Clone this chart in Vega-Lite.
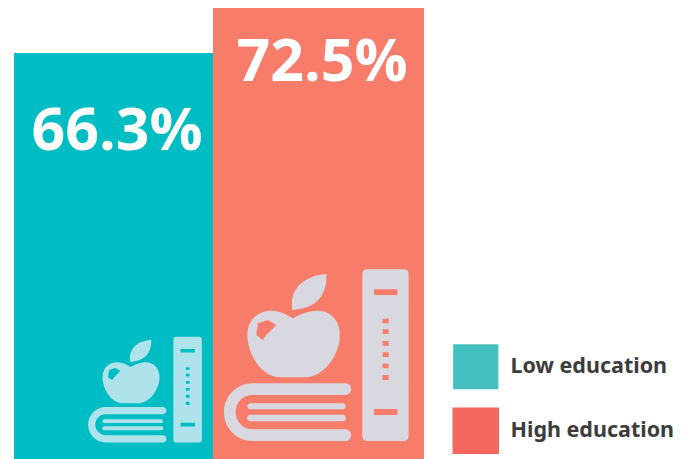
{"$schema":"https://vega.github.io/schema/vega-lite/v6.json","width":683,"height":459,"padding":0,"autosize":{"type":"none"},"background":"white","view":{"stroke":null},
"data":{"values":[{"group":"Low education","value":66.3,"label":"66.3%"},{"group":"High education","value":72.5,"label":"72.5%"}]},
"encoding":{"x":{"field":"group","type":"nominal","sort":["Low education","High education"],"axis":null,"scale":{"type":"point","padding":0,"domain":["Low education","High education"],"range":[113.5,318.5]}},"y":{"field":"value","type":"quantitative","axis":null,"scale":{"domain":[10.4,73.6],"zero":false,"nice":false}}},
"layer":[
{"mark":{"type":"square","size":100,"yOffset":50},"encoding":{"color":{"field":"group","type":"nominal","sort":["Low education","High education"],"scale":{"domain":["Low education","High education"],"range":["#43BFBF","#F4665E"]},"legend":{"title":null,"orient":"none","legendX":465,"legendY":356,"padding":0,"symbolType":"M-3.2,-3.2H3.2V3.2H-3.2Z","symbolStrokeWidth":0,"symbolOpacity":1,"rowPadding":17,"labelFont":"Noto Sans","labelFontWeight":"bold","labelFontSize":21.5,"labelColor":"#3C3C3C","labelOffset":24,"labelLimit":220}}}},
{"mark":{"type":"bar","clip":true},"encoding":{"size":{"field":"group","type":"nominal","legend":null,"scale":{"domain":["Low education","High education"],"range":[199,211]}},"fill":{"field":"group","type":"nominal","legend":null,"scale":{"domain":["Low education","High education"],"range":["#00BCC3","#F77C6A"]}}}},
{"transform":[{"filter":"datum.group==='Low education'"}],"mark":{"type":"text","font":"Open Sans","fontWeight":"bold","fontSize":59,"color":"white","baseline":"middle","align":"center","dx":3.5,"yOffset":79},"encoding":{"text":{"field":"label","type":"nominal"}}},
{"transform":[{"filter":"datum.group==='High education'"}],"mark":{"type":"text","font":"Open Sans","fontWeight":"bold","fontSize":59,"color":"white","baseline":"middle","align":"center","dx":3.5,"yOffset":55},"encoding":{"text":{"field":"label","type":"nominal"}}},
{"transform":[{"filter":"datum.group==='Low education'"}],"mark":{"type":"point","filled":true,"opacity":1,"strokeWidth":0,"color":"#AEE3EC","size":0.1686,"xOffset":31.5,"yOffset":336.5,"shape":"M153,-257H262Q277,-257 277,-242V243Q277,258 262,258H153Q138,258 138,243V-242Q138,-257 153,-257ZM173,-197V-180H243V-197ZM173,162V180H243V162ZM199,-109V-95H217V-109ZM199,-77V-63H217V-77ZM199,-42V-28H217V-42ZM199,-8V6H217V-8ZM199,26V40H217V26ZM199,60V75H217V60ZM-70,-110C-45,-125 -20,-133 5,-133C45,-133 71,-100 71,-60C71,-10 30,67 -35,67L-105,67C-170,67 -207,-10 -207,-60C-207,-105 -175,-133 -135,-133C-110,-133 -90,-122 -70,-110ZM-175,-95L-180,-60L-160,-45L-150,-60L-135,-75L-120,-90L-145,-105ZM30,-243C33,-190 10,-140 -72,-135C-80,-190 -50,-235 30,-243ZM87,85H-190C-240,85 -277,125 -277,171C-277,220 -240,258 -190,258H87A17.5,17.5 0 0 0 87,223H-190C-220,223 -242,200 -242,171C-242,142 -220,120 -190,120H87A17.5,17.5 0 0 0 87,85ZM-198,145H79A9,9 0 0 1 79,163H-198A9,9 0 0 1 -198,145ZM-198,179H79A10,10 0 0 1 79,199H-198A10,10 0 0 1 -198,179Z"}},
{"transform":[{"filter":"datum.group==='High education'"}],"mark":{"type":"point","filled":true,"opacity":1,"strokeWidth":0,"color":"#D9D7DF","size":0.4444,"xOffset":-2.2,"yOffset":347,"shape":"M153,-257H262Q277,-257 277,-242V243Q277,258 262,258H153Q138,258 138,243V-242Q138,-257 153,-257ZM173,-197V-180H243V-197ZM173,162V180H243V162ZM199,-109V-95H217V-109ZM199,-77V-63H217V-77ZM199,-42V-28H217V-42ZM199,-8V6H217V-8ZM199,26V40H217V26ZM199,60V75H217V60ZM-70,-110C-45,-125 -20,-133 5,-133C45,-133 71,-100 71,-60C71,-10 30,67 -35,67L-105,67C-170,67 -207,-10 -207,-60C-207,-105 -175,-133 -135,-133C-110,-133 -90,-122 -70,-110ZM-175,-95L-180,-60L-160,-45L-150,-60L-135,-75L-120,-90L-145,-105ZM30,-243C33,-190 10,-140 -72,-135C-80,-190 -50,-235 30,-243ZM87,85H-190C-240,85 -277,125 -277,171C-277,220 -240,258 -190,258H87A17.5,17.5 0 0 0 87,223H-190C-220,223 -242,200 -242,171C-242,142 -220,120 -190,120H87A17.5,17.5 0 0 0 87,85ZM-198,145H79A9,9 0 0 1 79,163H-198A9,9 0 0 1 -198,145ZM-198,179H79A10,10 0 0 1 79,199H-198A10,10 0 0 1 -198,179Z"}}
]}
